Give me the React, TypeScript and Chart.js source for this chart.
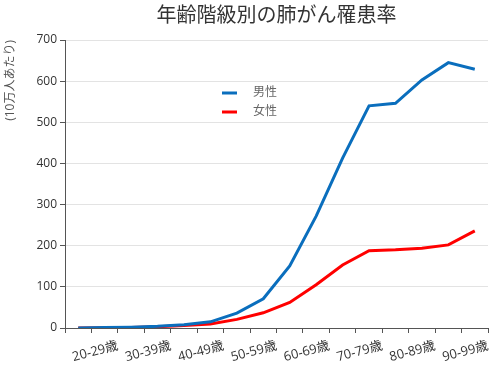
import React, { useEffect, useRef } from "react";
import { Chart, registerables } from "chart.js";

Chart.register(...registerables);

const TITLE = "年齢階級別の肺がん罹患率";
const Y_TITLE = "(10万人あたり)";
const AGE_GROUPS = [
  "20-24", "25-29", "30-34", "35-39", "40-44", "45-49", "50-54", "55-59",
  "60-64", "65-69", "70-74", "75-79", "80-84", "85-89", "90-94", "95-99",
];
const TICK_LABELS = ["20-29歳", "30-39歳", "40-49歳", "50-59歳", "60-69歳", "70-79歳", "80-89歳", "90-99歳"];
const MALE = [0, 1, 2, 4, 8, 15, 36, 71, 151, 272, 413, 540, 546, 603, 645, 629];
const FEMALE = [0, 0.5, 1, 3, 6, 10, 21, 37, 62, 105, 153, 188, 190, 194, 202, 236];
const SERIES_NAMES = ["男性", "女性"];
const COLORS = ["#0a6ebd", "#ff0000"];

const FONT = "'Open Sans', 'Noto Sans CJK JP', sans-serif";

const titlePlugin = {
  id: "centerTitle",
  afterDraw(chart: any) {
    const { ctx, chartArea } = chart;
    ctx.save();
    ctx.font = `20px ${FONT}`;
    ctx.fillStyle = "#333333";
    ctx.textAlign = "center";
    ctx.textBaseline = "middle";
    ctx.fillText(TITLE, (chartArea.left + chartArea.right) / 2, 16);
    ctx.restore();
  },
};

const legendPlugin = {
  id: "insideLegend",
  afterDraw(chart: any) {
    const { ctx } = chart;
    ctx.save();
    chart.data.datasets.forEach((ds: any, i: number) => {
      const y = 93 + i * 19;
      ctx.strokeStyle = ds.borderColor;
      ctx.lineWidth = 3;
      ctx.beginPath();
      ctx.moveTo(222, y);
      ctx.lineTo(237, y);
      ctx.stroke();
      ctx.font = `12px ${FONT}`;
      ctx.fillStyle = "#666666";
      ctx.textAlign = "left";
      ctx.textBaseline = "middle";
      ctx.fillText(ds.label, 253, y);
    });
    ctx.restore();
  },
};

export default function App() {
  const ref = useRef<HTMLCanvasElement | null>(null);
  useEffect(() => {
    if (!ref.current) return;
    const mk = (vals: number[]) => vals.map((v, i) => ({ x: i + 0.5, y: v }));
    const chart = new Chart(ref.current, {
      type: "line",
      data: {
        datasets: [
          { label: SERIES_NAMES[0], data: mk(MALE), borderColor: COLORS[0], backgroundColor: COLORS[0], borderWidth: 3, pointRadius: 0, tension: 0 },
          { label: SERIES_NAMES[1], data: mk(FEMALE), borderColor: COLORS[1], backgroundColor: COLORS[1], borderWidth: 3, pointRadius: 0, tension: 0 },
        ],
      },
      options: {
        animation: false,
        responsive: false,
        maintainAspectRatio: false,
        layout: { padding: { top: 40, right: 10, left: 0, bottom: 0 } },
        plugins: { legend: { display: false }, title: { display: false }, tooltip: { enabled: false } },
        scales: {
          x: {
            type: "linear",
            min: 0,
            max: AGE_GROUPS.length,
            afterFit: (s: any) => { s.height = 46; },
            grid: { drawOnChartArea: false, drawTicks: true, tickLength: 5, tickColor: "#555555" },
            border: { color: "#555555", width: 1 },
            ticks: {
              stepSize: 1,
              autoSkip: false,
              minRotation: 15,
              maxRotation: 15,
              padding: 5,
              color: "#333333",
              font: { family: FONT, size: 13 },
              callback: (v: any) => {
                const n = Math.round(Number(v));
                if (n >= 2 && n % 2 === 0) return TICK_LABELS[n / 2 - 1];
                return "";
              },
            },
          },
          y: {
            min: 0,
            max: 700,
            afterFit: (s: any) => { s.width = 65; },
            grid: { color: "#e3e3e3", tickColor: "#555555", tickLength: 5, lineWidth: 1 },
            border: { color: "#555555", width: 1 },
            ticks: { stepSize: 100, color: "#333333", padding: 3, font: { family: FONT, size: 12 } },
            title: {
              display: true,
              text: Y_TITLE,
              align: "end",
              color: "#555555",
              padding: { top: 3, bottom: 0 },
              font: { family: FONT, size: 12 },
            },
          },
        },
      },
      plugins: [titlePlugin, legendPlugin],
    } as any);
    return () => chart.destroy();
  }, []);
  return (
    <div style={{ position: "absolute", left: 0, top: 0, width: 498, height: 374, background: "#fff" }}>
      <canvas ref={ref} width={498} height={374} style={{ width: 498, height: 374, display: "block" }} />
    </div>
  );
}
